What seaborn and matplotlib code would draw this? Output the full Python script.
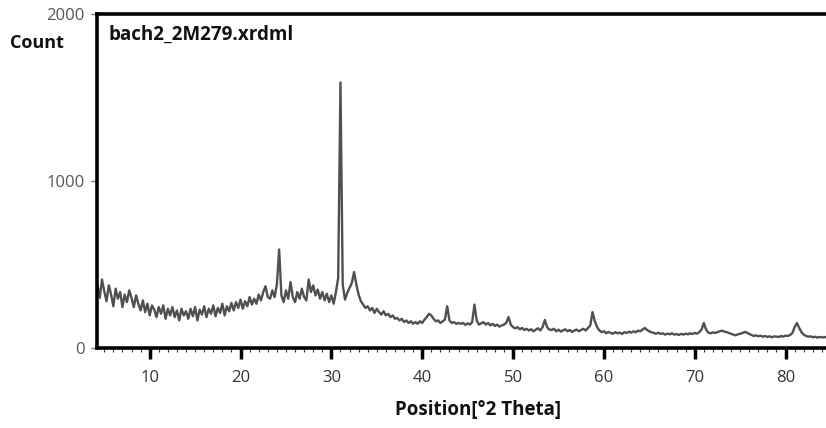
import numpy as np
import pandas as pd
import matplotlib
matplotlib.use("Agg")
import matplotlib.pyplot as plt
import seaborn as sns

# scan grid: 4.25 .. 84.5 deg 2theta, step 0.25
two_theta = np.round(np.arange(4.25, 84.5001, 0.25), 2)

counts = [
    # 4.25 - 9.0
    380, 300, 410, 340, 280, 375, 320, 250, 355, 295, 335, 245, 320, 275, 345, 300, 245, 315, 265, 225,
    # 9.25 - 14.0
    285, 215, 265, 195, 255, 230, 185, 245, 205, 255, 175, 235, 195, 245, 185, 225, 165, 235, 195, 220,
    # 14.25 - 19.0
    175, 235, 190, 245, 165, 230, 200, 250, 185, 235, 205, 255, 190, 240, 210, 265, 195, 250, 220, 270,
    # 19.25 - 24.0
    225, 275, 240, 290, 235, 280, 250, 305, 260, 295, 265, 320, 285, 335, 370, 305, 295, 345, 305, 380,
    # 24.25 - 29.0
    590, 315, 275, 345, 295, 395, 305, 275, 335, 295, 355, 305, 285, 410, 335, 375, 315, 350, 295, 335,
    # 29.25 - 34.0
    285, 325, 275, 315, 265, 335, 420, 1590, 380, 290, 330, 360, 390, 455, 380, 320, 280, 260, 240, 250,
    # 34.25 - 39.0
    225, 240, 210, 235, 215, 200, 220, 195, 205, 185, 195, 175, 180, 165, 175, 155, 165, 150, 160, 145,
    # 39.25 - 44.0
    155, 145, 160, 150, 170, 185, 205, 195, 175, 160, 165, 150, 160, 170, 250, 165, 150, 155, 145, 150,
    # 44.25 - 49.0
    145, 150, 138, 148, 140, 155, 260, 165, 140, 148, 155, 140, 150, 135, 145, 132, 140, 128, 135, 140,
    # 49.25 - 54.0
    150, 185, 140, 125, 118, 125, 112, 120, 108, 115, 105, 112, 100, 110, 118, 105, 125, 168, 125, 110,
    # 54.25 - 59.0
    108, 115, 100, 110, 98, 106, 112, 100, 108, 96, 105, 110, 100, 108, 115, 105, 120, 135, 215, 160,
    # 59.25 - 64.0
    125, 105, 95, 100, 88, 96, 90, 85, 95, 88, 92, 84, 95, 90, 98, 92, 100, 94, 104, 100,
    # 64.25 - 69.0
    110, 120, 108, 100, 94, 90, 85, 92, 84, 88, 80, 86, 82, 88, 80, 84, 78, 85, 80, 86,
    # 69.25 - 74.0
    82, 88, 84, 90, 86, 95, 110, 150, 110, 92, 88, 94, 90, 95, 100, 104, 98, 96, 90, 85,
    # 74.25 - 79.0
    80, 76, 82, 85, 90, 96, 92, 84, 78, 72, 76, 70, 74, 68, 72, 66, 70, 64, 70, 68,
    # 79.25 - 84.0
    66, 72, 68, 74, 72, 78, 90, 125, 150, 120, 95, 80, 72, 68, 70, 64, 68, 62, 66, 64,
    # 84.25 - 84.5
    64, 66,
]

x_ticks = [10, 20, 30, 40, 50, 60, 70, 80]
y_ticks = [0, 1000, 2000]
y_tick_labels = ["0", "1000", "2000"]
title_text = "bach2_2M279.xrdml"
y_label = "Count"
x_label = "Position[\u00b02 Theta]"

df = pd.DataFrame({"two_theta": two_theta, "counts": counts})

sns.set_theme(style="ticks")
plt.rcParams["font.family"] = ["Open Sans", "DejaVu Sans"]

fig = plt.figure(figsize=(8.26, 4.28), dpi=100)
ax = fig.add_axes([97 / 826, 1 - 348 / 428, 1 - 97 / 826, (348 - 14) / 428])

sns.lineplot(data=df, x="two_theta", y="counts", ax=ax, color="#505050",
             linewidth=1.7, estimator=None, sort=False)

ax.set_xlim(4.2, 84.45)
ax.set_ylim(0, 2000)

ax.set_xticks(x_ticks)
ax.set_xticks(np.arange(5, 85, 1), minor=True)
ax.set_xticklabels([str(t) for t in x_ticks], fontsize=12, color="#333333")
ax.tick_params(axis="x", which="major", direction="out", length=8, width=2.5,
               color="black", pad=8)
ax.tick_params(axis="x", which="minor", direction="out", length=3, width=0.8,
               color="#333333")

ax.set_yticks(y_ticks)
ax.set_yticklabels(y_tick_labels, fontsize=12, color="#555555")
ax.tick_params(axis="y", which="major", direction="out", length=4, width=1,
               color="#777777", pad=5)

for side in ["left", "bottom", "top"]:
    ax.spines[side].set_visible(True)
    ax.spines[side].set_linewidth(2.6)
    ax.spines[side].set_color("black")
ax.spines["right"].set_visible(False)

ax.set_xlabel("")
ax.set_ylabel("")

fig.text(108 / 826, 1 - 35 / 428, title_text, fontsize=13.5, fontweight="bold",
         ha="left", va="center", color="#111111")
fig.text(10 / 826, 1 - 43 / 428, y_label, fontsize=13, fontweight="bold",
         ha="left", va="center", color="#111111")
fig.text(478 / 826, 1 - 410 / 428, x_label, fontsize=13.5, fontweight="bold",
         ha="center", va="center", color="#111111")

fig.savefig("out.png", dpi=100)
